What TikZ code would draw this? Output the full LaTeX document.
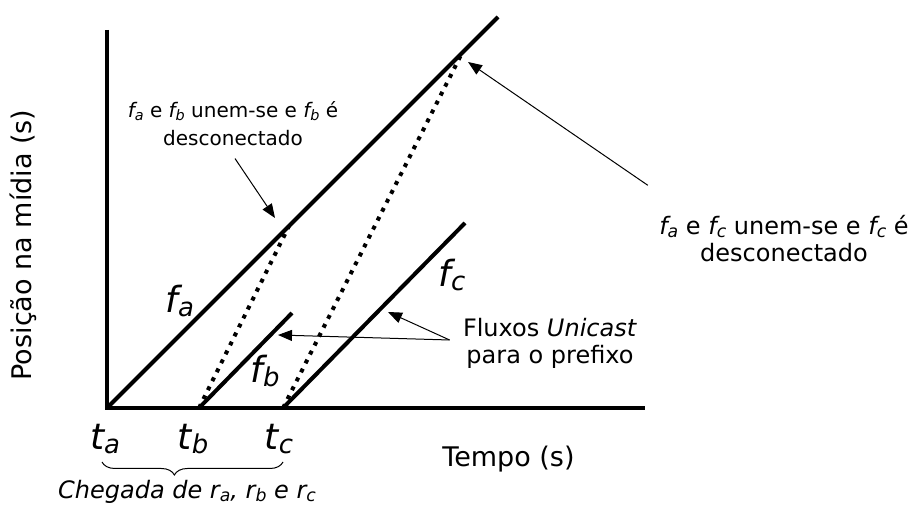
\documentclass[tikz,border=0pt]{standalone}
\usepackage{fontspec}
\setmainfont{DejaVu Sans}
\usetikzlibrary{arrows.meta,decorations.pathreplacing}

% italic letter with a small index beside it
\newcommand{\lbl}[2]{\textit{#1\raisebox{-0.2ex}{\scalebox{0.72}{#2}}}}

\begin{document}
\begin{tikzpicture}[x=0.5pt,y=-0.5pt,
    axis/.style={line width=2pt},
    flow/.style={line width=2pt},
    merge/.style={line width=2pt,dash pattern=on 2pt off 3pt},
    note/.style={font=\fontsize{12}{13.5}\selectfont,align=center,inner sep=0pt},
    small note/.style={note,font=\fontsize{10}{14}\selectfont},
    big/.style={font=\fontsize{18}{20}\selectfont,inner sep=0pt},
    pointer/.style={line width=0.5pt,-{Triangle[length=7pt,width=5.5pt]}}]
    \useasboundingbox (0,0) rectangle (911,506);

    % axes
    \coordinate (ytop) at (107,30);
    \coordinate (o) at (107,408);
    \coordinate (xend) at (645,408);
    \draw[axis] (ytop) -- (o) -- (xend);

    % flows
    \coordinate (tb) at (199,408);
    \coordinate (tc) at (283,408);
    \coordinate (faend) at (498,17);
    \coordinate (fbend) at (292,313);
    \coordinate (fcend) at (465,223);
    \coordinate (mab) at (289,226);
    \coordinate (mac) at (462,53);
    \draw[flow] (o) -- (faend);
    \draw[flow] (tb) -- (fbend);
    \draw[flow] (tc) -- (fcend);
    \draw[merge] (tb) -- (mab);
    \draw[merge] (tc) -- (mac);

    \node[big,anchor=base west] (la) at (165,313) {\lbl{f}{a}};
    \node[big,anchor=base west] (lb) at (250,383) {\lbl{f}{b}};
    \node[big,anchor=base west] (lc) at (438,287) {\lbl{f}{c}};

    % time axis labels
    \node[big,anchor=base] (lta) at (105,450) {\lbl{t}{a}};
    \node[big,anchor=base] (ltb) at (193,450) {\lbl{t}{b}};
    \node[big,anchor=base] (ltc) at (279,450) {\lbl{t}{c}};
    \draw[line width=0.5pt,decorate,decoration={brace,mirror,amplitude=6.5pt,aspect=0.4}]
        (102,462) -- (283,462);
    \node[note,anchor=base] (arrival) at (187,499)
        {\itshape Chegada de \lbl{r}{a}, \lbl{r}{b} e \lbl{r}{c}};
    \node[note,font=\fontsize{13.5}{15}\selectfont,anchor=base west] (tempo) at (442,467) {Tempo (s)};
    \node[note,font=\fontsize{13.5}{15}\selectfont,rotate=90,anchor=base] (pos) at (32,245)
        {Posição na mídia (s)};

    % notes
    \node[small note] (mergeb) at (233,124)
        {\lbl{f}{a} e \lbl{f}{b} unem-se e \lbl{f}{b} é\\desconectado};
    \node[note] (mergec) at (784,239)
        {\lbl{f}{a} e \lbl{f}{c} unem-se e \lbl{f}{c} é\\desconectado};
    \node[note] (flux) at (550,343) {Fluxos \textit{Unicast}\\para o prefixo};

    \coordinate (tipab) at (275,218);
    \coordinate (tipac) at (468,62);
    \coordinate (tipc) at (388,312);
    \coordinate (tipb) at (278,335);
    \draw[pointer] ([xshift=1pt,yshift=-6pt]mergeb.south) -- (tipab);
    \draw[pointer] ([xshift=-5.5pt,yshift=15pt]mergec.north west) -- (tipac);
    \draw[pointer] ([xshift=-6.5pt,yshift=1.5pt]flux.west) -- (tipc);
    \draw[pointer] ([xshift=-6.5pt,yshift=1.5pt]flux.west) -- (tipb);
\end{tikzpicture}
\end{document}
